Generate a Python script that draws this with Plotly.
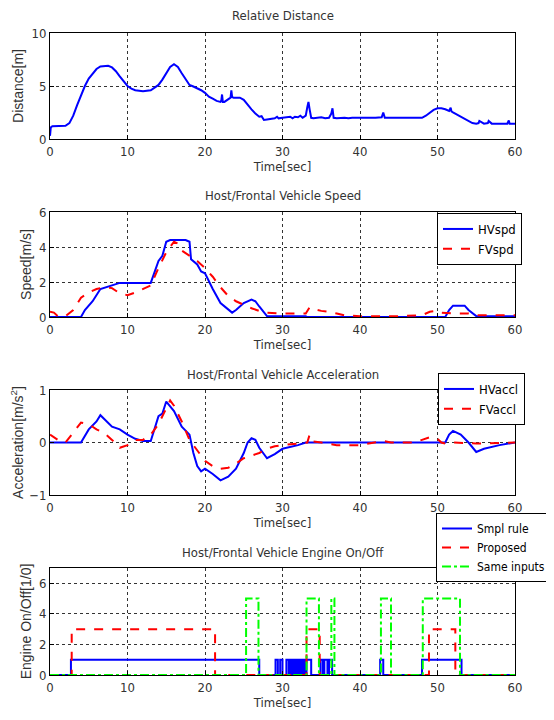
import plotly.graph_objects as go

# ---------------- data ----------------
dist_t = [0, 0.1, 0.3, 1, 2, 2.5, 3, 3.5, 4, 4.5, 5, 5.5, 6, 6.5, 7, 7.5, 8, 8.5, 9, 9.5,
          10, 10.5, 11, 12, 13, 13.5, 14, 14.5, 15, 15.5, 16, 16.5, 17, 17.5, 18, 18.5, 19, 19.5,
          20, 20.5, 21, 21.5, 22, 22.1, 22.2, 22.3, 22.5, 23, 23.3, 23.4, 23.5, 23.7, 24, 24.5,
          25, 25.5, 26, 26.5, 27, 27.3, 27.6, 28, 28.5, 29, 29.3, 29.5, 30, 30.5, 31, 31.3, 31.6,
          32, 32.3, 32.6, 33, 33.2, 33.35, 33.5, 33.7, 34, 34.5, 35, 35.5, 36, 36.3, 36.45, 36.6,
          37, 38, 38.5, 39, 40, 41, 42, 42.8, 43.0, 43.2, 44, 45, 46, 47, 48, 48.5, 49, 49.5,
          50, 50.5, 51, 51.5, 51.7, 51.8, 52, 52.5, 53, 53.5, 54, 54.5, 55, 55.3, 55.4, 56, 56.5,
          56.6, 57, 58, 59, 59.2, 59.3, 60]
dist_v = [0.3, 1.1, 1.2, 1.2, 1.25, 1.5, 2.2, 3.2, 4.2, 5.0, 5.7, 6.2, 6.6, 6.85, 6.9, 6.9, 6.75, 6.4, 5.9, 5.4,
          5.0, 4.75, 4.6, 4.5, 4.6, 4.85, 5.1, 5.6, 6.2, 6.8, 7.05, 6.8, 6.2, 5.6, 5.1, 4.95, 4.8, 4.6,
          4.35, 4.0, 3.8, 3.6, 3.5, 3.6, 4.2, 3.5, 3.5, 3.7, 3.9, 4.6, 3.95, 3.9, 3.9, 3.9,
          3.7, 3.2, 2.8, 2.4, 2.1, 2.15, 1.8, 1.85, 1.9, 1.95, 2.1, 1.95, 2.0, 2.05, 2.1, 1.95, 2.1,
          2.05, 2.2, 2.0, 2.2, 3.0, 3.5, 2.8, 2.0, 1.95, 2.0, 2.05, 1.95, 2.0, 2.4, 2.9, 2.0,
          1.95, 2.0, 1.95, 2.0, 2.0, 1.95, 2.0, 2.05, 2.5, 2.0, 2.0, 1.95, 2.0, 2.0, 2.0, 2.2, 2.5, 2.75,
          2.9, 2.9, 2.8, 2.65, 2.95, 2.6, 2.5, 2.3, 2.05, 1.85, 1.65, 1.5, 1.45, 1.5, 1.7, 1.45, 1.5,
          1.7, 1.45, 1.45, 1.45, 1.75, 1.45, 1.45]

hv_spd_t = [0, 4, 4.5, 5.5, 6.5, 7.5, 8.5, 9, 13, 13.5, 14, 14.5, 15, 15.5, 17.5, 18, 18.2, 19, 19.5,
            20, 21, 22, 23, 23.5, 24, 25, 26, 26.5, 27, 28, 33, 33.1, 51, 51.5, 52, 53.5, 54, 55, 60]
hv_spd_v = [0, 0, 0.4, 0.9, 1.6, 1.75, 1.9, 1.95, 1.95, 2.6, 3.2, 3.5, 4.3, 4.4, 4.4, 4.3, 3.3, 3.0, 2.6,
            2.5, 1.6, 0.8, 0.4, 0.25, 0.4, 0.8, 1.0, 0.9, 0.6, 0.05, 0.05, 0, 0, 0.4, 0.65, 0.65, 0.4, 0.05, 0.05]

fv_spd_t = [0, 0.5, 1, 2, 3, 4, 5, 6, 7, 8, 9, 10, 11, 12, 13, 14, 15, 16, 16.5, 17, 18, 19, 20, 21,
            22, 23, 24, 25, 26, 27, 28, 30, 32, 33, 33.5, 34, 35, 36, 37, 38, 40, 45, 48, 49, 50,
            50.5, 52, 54, 55, 60]
fv_spd_v = [0.3, 0.25, 0.05, 0.05, 0.4, 1.1, 1.4, 1.6, 1.7, 1.65, 1.35, 1.25, 1.4, 1.6, 1.8, 2.8, 3.7,
            4.3, 4.2, 3.8, 3.5, 3.2, 2.8, 2.3, 1.7, 1.2, 0.9, 0.7, 0.5, 0.35, 0.25, 0.2, 0.2, 0.2,
            0.55, 0.45, 0.35, 0.3, 0.2, 0.1, 0.05, 0.05, 0.1, 0.3, 0.35, 0.25, 0.2, 0.2, 0.1, 0.1]

hv_acc_t = [0, 4, 5, 6, 6.5, 7, 8, 9, 10, 11, 12, 13, 13.5, 14, 14.5, 15, 16, 17, 18, 18.5, 19, 19.5,
            20, 21, 22, 23, 24, 25, 25.5, 26, 26.5, 27, 28, 29, 30, 32, 33, 51, 51.5, 52, 53, 54,
            55, 56, 58, 60]
hv_acc_v = [0, 0, 0.25, 0.4, 0.52, 0.45, 0.3, 0.25, 0.15, 0.07, 0.03, 0.03, 0.25, 0.5, 0.55, 0.78, 0.6,
            0.3, 0.15, -0.2, -0.45, -0.55, -0.5, -0.6, -0.72, -0.65, -0.5, -0.2, 0.0, 0.08, 0.05,
            -0.1, -0.3, -0.22, -0.12, -0.05, 0, 0, 0.15, 0.22, 0.15, 0.0, -0.18, -0.12, -0.05, 0]

fv_acc_t = [0, 1, 2, 3, 4, 5, 6, 7, 8, 9, 10, 11, 12, 13, 14, 15, 15.5, 16, 17, 18, 19, 20, 21, 22,
            23, 24, 25, 26, 27, 28, 29, 30, 32, 33.2, 33.5, 34, 35, 36, 37, 40, 42, 43, 44, 47,
            48, 49, 50, 50.5, 51, 52, 55, 60]
fv_acc_v = [0.15, 0.05, 0.0, 0.2, 0.38, 0.35, 0.25, 0.18, 0.05, -0.1, -0.05, 0.05, 0.05, 0.15, 0.35,
            0.65, 0.8, 0.7, 0.4, 0.05, -0.15, -0.35, -0.45, -0.5, -0.48, -0.4, -0.3, -0.25, -0.2,
            -0.12, -0.07, -0.05, -0.02, 0, 0.15, 0.02, 0.0, -0.02, -0.05, -0.05, 0.0, 0.03, 0.0,
            0.0, 0.05, 0.1, 0.07, 0.0, -0.02, 0.0, -0.02, 0.0]

# engine on/off intervals (start, end) and level
smpl_start = [2.7, 29.1, 29.7, 30.5, 31.0, 31.3, 31.6, 31.9, 32.2, 32.5, 32.8, 33.1, 34.9, 35.4, 36.0, 42.6, 48.0]
smpl_end = [27.0, 29.4, 30.0, 30.8, 31.2, 31.5, 31.8, 32.1, 32.4, 32.7, 33.0, 33.7, 35.2, 35.8, 36.4, 43.0, 53.1]
smpl_level = 1
prop_start = [2.8, 33.1, 48.9]
prop_end = [21.3, 34.8, 52.3]
prop_level = 3
same_start = [25.3, 33.1, 36.3, 42.7, 48.1]
same_end = [26.9, 34.7, 36.7, 44.0, 52.9]
same_level = 5

x_ticks = [0, 10, 20, 30, 40, 50, 60]


def step_series(starts, ends, level, t0=0, t1=60):
    xs, ys = [t0], [0]
    for s, e in zip(starts, ends):
        xs += [s, e]
        ys += [level, 0]
    xs.append(t1)
    ys.append(0)
    return xs, ys


# ---------------- layout helpers ----------------
OFF = 8  # page body margin of the html file
W, H = 554 - OFF, 720 - OFF
ML, MR, MT, MB = 50 - OFF, 39, 33 - OFF, 45
PW, PH = W - ML - MR, H - MT - MB


def py(px):
    return (OFF + H - MB - px) / PH


def pxx(px):
    return (px - OFF - ML) / PW


NARROW = "DejaVu Sans Condensed, Liberation Sans Narrow, Liberation Sans, sans-serif"
REG = "Liberation Sans, Arial, sans-serif"
BLUE, RED, GREEN = "#0000ff", "#ff0000", "#00ff00"

fig = go.Figure()

fig.add_trace(go.Scatter(x=dist_t, y=dist_v, mode="lines", line=dict(color=BLUE, width=2),
                         xaxis="x", yaxis="y", showlegend=False))
fig.add_trace(go.Scatter(x=hv_spd_t, y=hv_spd_v, mode="lines", name="HVspd",
                         line=dict(color=BLUE, width=2), xaxis="x2", yaxis="y2", legend="legend"))
fig.add_trace(go.Scatter(x=fv_spd_t, y=fv_spd_v, mode="lines", name="FVspd",
                         line=dict(color=RED, width=2, dash="dash"), xaxis="x2", yaxis="y2", legend="legend"))
fig.add_trace(go.Scatter(x=hv_acc_t, y=hv_acc_v, mode="lines", name="HVaccl",
                         line=dict(color=BLUE, width=2), xaxis="x3", yaxis="y3", legend="legend2"))
fig.add_trace(go.Scatter(x=fv_acc_t, y=fv_acc_v, mode="lines", name="FVaccl",
                         line=dict(color=RED, width=2, dash="dash"), xaxis="x3", yaxis="y3", legend="legend2"))

sx, sy = step_series(smpl_start, smpl_end, smpl_level)
px_, py_ = step_series(prop_start, prop_end, prop_level)
gx, gy = step_series(same_start, same_end, same_level)
fig.add_trace(go.Scatter(x=sx, y=sy, mode="lines", name="Smpl rule", line_shape="hv",
                         line=dict(color=BLUE, width=2), xaxis="x4", yaxis="y4", legend="legend3"))
fig.add_trace(go.Scatter(x=px_, y=py_, mode="lines", name="Proposed", line_shape="hv",
                         line=dict(color=RED, width=2, dash="dash"), xaxis="x4", yaxis="y4", legend="legend3"))
fig.add_trace(go.Scatter(x=gx, y=gy, mode="lines", name="Same inputs", line_shape="hv",
                         line=dict(color=GREEN, width=2, dash="dashdot"), xaxis="x4", yaxis="y4", legend="legend3"))

axis_common = dict(showline=True, linecolor="black", linewidth=1, mirror=True,
                   ticks="inside", ticklen=4, tickcolor="black", automargin=False,
                   showgrid=True, gridcolor="#333333", griddash="dot", gridwidth=1,
                   zeroline=False, tickfont=dict(family=NARROW, size=13, color="#333"))

domains = [(py(139), py(33)), (py(317), py(212)), (py(495), py(390)), (py(675), py(568))]
yranges = [[0, 10], [0, 6], [-1, 1], [0, 7]]
yticks = [[0, 5, 10], [0, 2, 4, 6], [-1, 0, 1], [0, 2, 4, 6]]
ytitles = ["Distance[m]", "Speed[m/s]", "Acceleration[m/s<sup>2</sup>]", "Engine On/Off[1/0]"]

layout = dict(width=W, height=H, margin=dict(l=ML, r=MR, t=MT, b=MB, autoexpand=False),
              paper_bgcolor="white", plot_bgcolor="white",
              font=dict(family=NARROW, size=13, color="#333"))
for i in range(4):
    sfx = "" if i == 0 else str(i + 1)
    layout["xaxis" + sfx] = dict(axis_common, domain=[0, 1], range=[0, 60], tickvals=x_ticks,
                                 anchor="y" + sfx,
                                 title=dict(text="Time[sec]", font=dict(family=NARROW, size=13, color="#333"),
                                            standoff=0))
    layout["yaxis" + sfx] = dict(axis_common, domain=list(domains[i]), range=yranges[i],
                                 tickvals=yticks[i], anchor="x" + sfx,
                                 title=dict(text=ytitles[i], font=dict(family=REG, size=14, color="#333"),
                                            standoff=4))

legend_common = dict(bgcolor="white", bordercolor="black", borderwidth=1,
                     font=dict(family=NARROW, size=13, color="black"),
                     xanchor="left", yanchor="top", itemwidth=30, tracegroupgap=0)
layout["legend"] = dict(legend_common, x=pxx(437), y=py(213))
layout["legend2"] = dict(legend_common, x=pxx(438), y=py(373))
layout["legend3"] = dict(legend_common, x=pxx(436), y=py(513),
                         font=dict(family=NARROW, size=12, color="black"))

titles = [("Relative Distance", 15), ("Host/Frontal Vehicle Speed", 195),
          ("Host/Frontal Vehicle Acceleration", 374), ("Host/Frontal Vehicle Engine On/Off", 552)]
layout["annotations"] = [dict(text=t, x=0.5, y=py(p), xref="paper", yref="paper", showarrow=False,
                              xanchor="center", yanchor="middle",
                              font=dict(family=NARROW, size=13, color="#333")) for t, p in titles]

fig.update_layout(**layout)
fig.write_html("out.html")
